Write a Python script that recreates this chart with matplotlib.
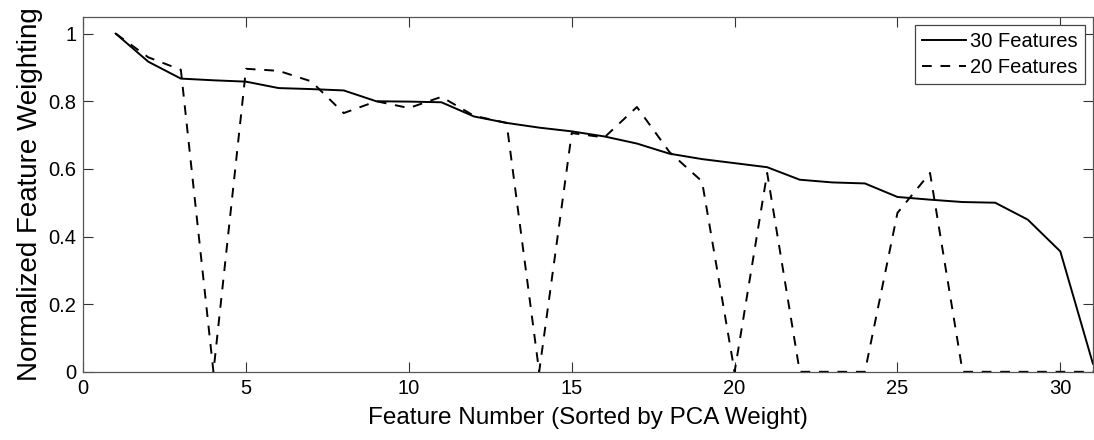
import matplotlib
matplotlib.use('Agg')
import matplotlib.pyplot as plt

plt.rcParams['font.family'] = ['Liberation Sans', 'DejaVu Sans']

# feature index (sorted by PCA weight)
features = list(range(1, 32))

# normalized weights, 30-feature model
w30 = [1.0, 0.917, 0.867, 0.862, 0.858, 0.839, 0.836, 0.832, 0.80, 0.799,
       0.797, 0.755, 0.736, 0.722, 0.711, 0.696, 0.675, 0.645, 0.629, 0.617,
       0.605, 0.568, 0.560, 0.557, 0.517, 0.509, 0.502, 0.500, 0.450, 0.356,
       0.024]

# normalized weights, 20-feature model
w20 = [1.0, 0.93, 0.893, 0.0, 0.896, 0.89, 0.859, 0.765, 0.80, 0.78,
       0.813, 0.757, 0.736, 0.0, 0.706, 0.693, 0.783, 0.65, 0.563, 0.0,
       0.588, 0.0, 0.0, 0.0, 0.47, 0.588, 0.0, 0.0, 0.0, 0.0,
       0.0]

fig = plt.figure(figsize=(10.94, 4.4), dpi=100)
ax = fig.add_axes([0.076, 0.155, 0.923, 0.807])

ax.plot(features, w30, '-', color='black', lw=1.4, label='30 Features')
ax.plot(features, w20, '--', color='black', lw=1.4, dashes=(5, 4.5), label='20 Features')

ax.set_xlim(0, 31)
ax.set_ylim(0, 1.05)
ax.set_xticks([0, 5, 10, 15, 20, 25, 30])
ax.set_yticks([0, 0.2, 0.4, 0.6, 0.8, 1])
ax.set_yticklabels(['0', '0.2', '0.4', '0.6', '0.8', '1'])
ax.tick_params(direction='in', top=True, right=True, length=7, width=0.8,
               labelsize=14.5, colors='#333333', labelcolor='black', pad=5)
for s in ax.spines.values():
    s.set_color('#555555')
    s.set_linewidth(0.9)

ax.set_xlabel('Feature Number (Sorted by PCA Weight)', fontsize=17.5, labelpad=7)
ax.set_ylabel('Normalized Feature Weighting', fontsize=20, labelpad=4)

leg = ax.legend(loc='upper right', fontsize=14.5, handlelength=2.2, handletextpad=0.2,
                borderaxespad=0.4, fancybox=False, framealpha=1, borderpad=0.35,
                labelspacing=0.35)
leg.get_frame().set_edgecolor('#444444')
leg.get_frame().set_linewidth(0.9)

fig.savefig('out.png', dpi=100)
